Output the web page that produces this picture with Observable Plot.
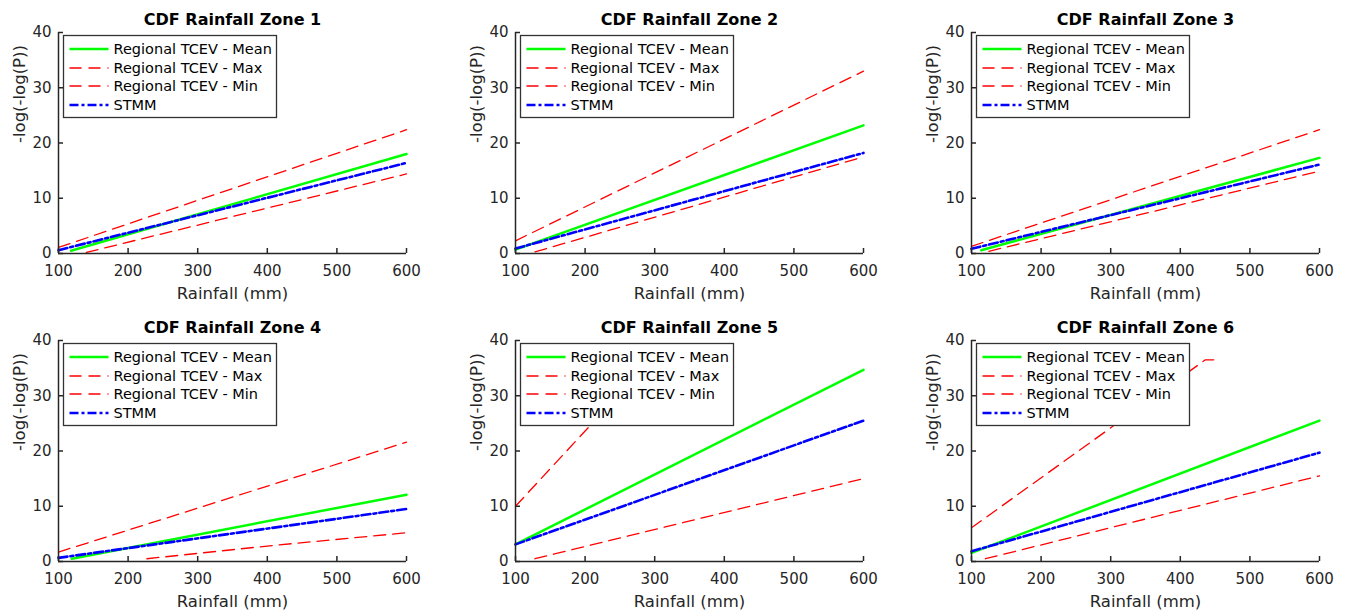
<!DOCTYPE html>
<html>
<head>
<meta charset="utf-8">
<script src="https://cdn.jsdelivr.net/npm/d3@7"></script>
<script src="https://cdn.jsdelivr.net/npm/@observablehq/plot@0.6"></script>
<style>
  html, body { margin: 0; padding: 0; background: white; }
  #chart { position: relative; width: 1349px; height: 613px; background: white; overflow: hidden; }
  #chart svg { position: absolute; }
</style>
</head>
<body>
<div id="chart"></div>
<script>
// ---- Data ----
const zoneTitles = ["CDF Rainfall Zone 1", "CDF Rainfall Zone 2", "CDF Rainfall Zone 3",
                    "CDF Rainfall Zone 4", "CDF Rainfall Zone 5", "CDF Rainfall Zone 6"];
const seriesNames = ["Regional TCEV - Mean", "Regional TCEV - Max", "Regional TCEV - Min", "STMM"];
const xLabel = "Rainfall (mm)";
const yLabel = "-log(-log(P))";
const xTicks = [100, 200, 300, 400, 500, 600];
const yTicks = [0, 10, 20, 30, 40];

// Regional TCEV - Mean: rainfall (mm) and -log(-log(P)) per zone
const meanRain = [[118, 600], [100, 600], [114, 600], [119, 600], [100, 600], [100, 600]];
const meanVal  = [[0.5, 18.0], [0.7, 23.2], [0.6, 17.3], [0.5, 12.1], [3.1, 34.7], [1.55, 25.5]];
// Regional TCEV - Max
const maxRain = [[100, 600], [100, 600], [100, 600], [100, 600], [100, 296, 310], [100, 436, 448]];
const maxVal  = [[1.1, 22.4], [2.3, 33.0], [1.3, 22.4], [1.7, 21.6], [10.0, 36.7, 36.7], [6.1, 36.5, 36.5]];
// Regional TCEV - Min
const minRain = [[140, 600], [128, 600], [125, 600], [227, 400, 600], [128, 600], [120, 600]];
const minVal  = [[0.2, 14.4], [0.3, 17.5], [0.4, 14.9], [0.5, 2.8, 5.2], [0.5, 15.0], [0.5, 15.5]];
// STMM
const stmmRain = [[100, 600], [100, 600], [100, 600], [100, 600], [100, 600], [100, 600]];
const stmmVal  = [[0.6, 16.4], [0.9, 18.2], [0.85, 16.1], [0.65, 9.5], [3.1, 25.5], [1.85, 19.7]];

// ---- Styles ----
const AX = "#262626";
const colors = ["#00ff00", "#ff0000", "#ff0000", "#0000ff"];
const widths = [2.5, 1.3, 1.3, 2.6];
const dashes = [null, "12,7", "12,7", "9,3,3,3"];
const FONT = "DejaVu Sans";

function pts(rain, val) { return rain.map((x, j) => ({x, y: val[j]})); }

function legendMark(index, scales, values, dims) {
  const g = d3.create("svg:g");
  const x0 = dims.marginLeft + 5.5, y0 = dims.marginTop + 3.5;
  g.append("rect").attr("x", x0).attr("y", y0).attr("width", 213).attr("height", 82)
    .attr("fill", "white").attr("stroke", "#333").attr("stroke-width", 1.3);
  seriesNames.forEach((name, k) => {
    const cy = Math.round(y0 + 13.5 + k * 18.5);
    g.append("line").attr("x1", x0 + 6).attr("x2", x0 + 45).attr("y1", cy).attr("y2", cy)
      .attr("stroke", colors[k]).attr("stroke-width", widths[k])
      .attr("stroke-dasharray", dashes[k]);
    g.append("text").attr("x", x0 + 50).attr("y", cy).attr("dy", "0.35em")
      .attr("text-anchor", "start")
      .attr("font-family", FONT).attr("font-size", 14.5).attr("fill", "black").text(name);
  });
  return g.node();
}

function panel(z) {
  const series = [
    pts(meanRain[z], meanVal[z]),
    pts(maxRain[z], maxVal[z]),
    pts(minRain[z], minVal[z]),
    pts(stmmRain[z], stmmVal[z])
  ];
  return Plot.plot({
    width: 456, height: 306,
    marginLeft: 58, marginRight: 50, marginTop: 32, marginBottom: 53,
    style: {fontFamily: FONT, background: "white", color: AX, overflow: "visible"},
    x: {domain: [100, 600]},
    y: {domain: [0, 40]},
    marks: [
      ...series.map((d, k) => Plot.line(d, {x: "x", y: "y", stroke: colors[k], strokeWidth: widths[k],
                                           strokeDasharray: dashes[k] || undefined})),
      Plot.ruleX([100], {stroke: AX, strokeWidth: 1.5}),
      Plot.ruleY([0], {stroke: AX, strokeWidth: 1.5}),
      Plot.axisX({ticks: xTicks, tickSize: -5, tickPadding: 17, label: null, fontSize: 15,
                  stroke: AX, strokeWidth: 1.5, fill: AX}),
      Plot.axisY({ticks: yTicks, tickSize: -5, tickPadding: 12, label: null, fontSize: 15,
                  stroke: AX, strokeWidth: 1.5, fill: AX}),
      Plot.text([xLabel], {frameAnchor: "bottom", dy: 40, lineAnchor: "middle", fontSize: 16.5, fill: AX}),
      Plot.text([yLabel], {frameAnchor: "left", dx: -39, rotate: -90, lineAnchor: "middle", fontSize: 16.5, fill: AX}),
      Plot.text([zoneTitles[z]], {frameAnchor: "top", dy: -12.5, lineAnchor: "middle", fontSize: 16,
                                  fontWeight: "bold", fill: "black"}),
      legendMark
    ]
  });
}

const chart = document.getElementById("chart");
const lefts = [0, 457, 913];
const tops = [0, 308];
for (let z = 0; z < 6; z++) {
  const svg = panel(z);
  svg.style.left = lefts[z % 3] + "px";
  svg.style.top = tops[Math.floor(z / 3)] + "px";
  chart.appendChild(svg);
}
</script>
</body>
</html>
